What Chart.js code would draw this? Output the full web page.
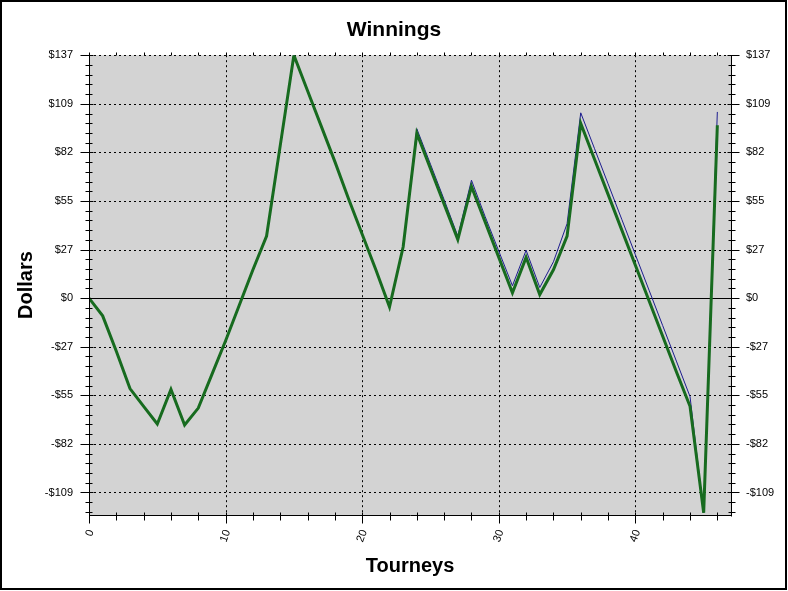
<!DOCTYPE html>
<html>
<head>
<meta charset="utf-8">
<script src="https://cdn.jsdelivr.net/npm/chart.js"></script>
<style>
  body { margin: 0; background: #fff; }
  canvas { display: block; }
</style>
</head>
<body>
<canvas id="myChart" width="788" height="591"></canvas>
<script>
// tourney numbers and running winnings
var tourneys = [0,1,2,3,4,5,6,7,8,9,10,11,12,13,14,15,16,17,18,19,20,21,22,23,
  24,25,26,27,28,29,30,31,32,33,34,35,36,37,38,39,40,41,42,43,44,45,46];
var netWinnings = [0,-10,-30,-51,-61,-71,-51.5,-71.5,-62,-43,-24,-4,16,35,86,137,
  117,97,77,56,36,16,-5,29,93,73,53,33,63,43,23,3,23,2,16,35,98.5,78.5,58.5,38.5,
  18.5,-1.5,-21.5,-41.5,-61,-121,97.5];
var grossWinnings = [0,-10,-30,-51,-61,-71,-51.5,-71.5,-62,-43,-24,-4,16,35,86,137,
  117,97,77,56,36,16,-5,29,95.5,75.5,55.5,35,66.5,46,26.5,7,27,6,20.5,42,104.5,84.5,64.5,44.5,
  24.5,4.5,-15.5,-35.5,-55.5,-121,105];

var xTickValues = [0, 10, 20, 30, 40];
var yTickValues = [-109.6, -82.2, -54.8, -27.4, 0, 27.4, 54.8, 82.2, 109.6, 137];
var yTickLabels = ["-$109", "-$82", "-$55", "-$27", "$0", "$27", "$55", "$82", "$109", "$137"];

var xMin = 0, xMax = 47;
var yMin = -122.3, yMax = 137;

var font = "'Liberation Sans', Arial, sans-serif";

function setYTicks(scale) {
  scale.ticks = yTickValues.map(v => ({value: v}));
}

function line(ctx, x1, y1, x2, y2) {
  ctx.beginPath();
  ctx.moveTo(x1, y1);
  ctx.lineTo(x2, y2);
  ctx.stroke();
}

// gray plot area, dotted grid and the zero line
var plotBack = {
  id: 'plotBack',
  beforeDatasetsDraw(chart) {
    const ctx = chart.ctx, a = chart.chartArea;
    const x = chart.scales.x, y = chart.scales.y;
    ctx.save();
    ctx.fillStyle = '#d3d3d3';
    ctx.fillRect(a.left, a.top, a.right - a.left, a.bottom - a.top);
    ctx.strokeStyle = '#000';
    ctx.lineWidth = 1;
    ctx.setLineDash([2, 3]);
    x.ticks.forEach(t => {
      if (t.value === 0) return;
      const px = Math.round(x.getPixelForValue(t.value)) + 0.5;
      line(ctx, px, a.top, px, a.bottom);
    });
    y.ticks.forEach(t => {
      if (t.value === 0) return;
      const py = Math.round(y.getPixelForValue(t.value)) + 0.5;
      line(ctx, a.left, py, a.right, py);
    });
    ctx.setLineDash([]);
    const zy = Math.round(y.getPixelForValue(0)) + 0.5;
    line(ctx, a.left, zy, a.right, zy);
    ctx.restore();
  }
};

// axis lines, major/minor tick marks and the outer frame
var axisMarks = {
  id: 'axisMarks',
  afterDatasetsDraw(chart) {
    const ctx = chart.ctx, a = chart.chartArea;
    const x = chart.scales.x, y = chart.scales.y;
    const L = a.left + 0.5, R = Math.round(a.right) + 0.5, B = Math.round(a.bottom) + 0.5, T = Math.round(a.top) + 0.5;
    ctx.save();
    ctx.strokeStyle = '#000';
    ctx.lineWidth = 1;
    line(ctx, L, T, L, B + 1);
    line(ctx, R, T, R, B + 1);
    line(ctx, L, B, R, B);

    // y ticks, 5 minor steps per major step
    const step = yTickValues[1] - yTickValues[0];
    for (let v = yMax; v >= yMin - 0.01; v -= step / 5) {
      const py = Math.round(y.getPixelForValue(v)) + 0.5;
      const major = yTickValues.some(t => Math.abs(t - v) < 0.05);
      if (major) {
        line(ctx, L - 9, py, L + 4, py);
        line(ctx, R - 4, py, R + 8, py);
      } else {
        line(ctx, L - 4, py, L + 3, py);
        line(ctx, R - 3, py, R + 4, py);
      }
    }
    // x ticks every 2 tourneys
    for (let v = xMin; v <= xMax; v += 2) {
      const px = Math.round(x.getPixelForValue(v)) + 0.5;
      const major = xTickValues.indexOf(v) >= 0;
      line(ctx, px, B - 3, px, B + (major ? 8 : 5));
      line(ctx, px, T, px, T - 3);
    }

    ctx.lineWidth = 2;
    ctx.strokeRect(1, 1, 785, 588);
    ctx.restore();
  }
};

new Chart("myChart", {
  type: "line",
  data: {
    datasets: [{
      label: "Net",
      data: tourneys.map((t, i) => ({x: t, y: netWinnings[i]})),
      borderColor: "#176b1f",
      borderWidth: 3,
      pointRadius: 0,
      tension: 0
    }, {
      label: "Gross",
      data: tourneys.map((t, i) => ({x: t, y: grossWinnings[i]})),
      borderColor: "#1c1c8e",
      borderWidth: 1,
      pointRadius: 0,
      tension: 0
    }]
  },
  options: {
    responsive: false,
    animation: false,
    devicePixelRatio: 1,
    layout: { padding: 0 },
    plugins: {
      legend: { display: false },
      tooltip: { enabled: false },
      title: {
        display: true,
        text: "Winnings",
        color: "#000",
        font: { family: font, size: 21, weight: "bold" },
        padding: { top: 18, bottom: 12 }
      }
    },
    scales: {
      x: {
        type: "linear",
        min: xMin,
        max: xMax,
        afterBuildTicks: s => { s.ticks = xTickValues.map(v => ({value: v})); },
        afterFit: s => { s.height = 76; },
        grid: { display: false, drawTicks: false },
        border: { display: false },
        ticks: {
          autoSkip: false,
          minRotation: 70,
          maxRotation: 70,
          padding: 13,
          labelOffset: 2,
          color: "#000",
          font: { family: font, size: 11 }
        },
        title: {
          display: true,
          text: "Tourneys",
          color: "#000",
          font: { family: font, size: 20, weight: "bold" },
          padding: { top: 0, bottom: 13 }
        }
      },
      y: {
        position: "left",
        min: yMin,
        max: yMax,
        afterBuildTicks: setYTicks,
        afterFit: s => { s.width = 89; },
        grid: { display: false, drawTicks: false },
        border: { display: false },
        ticks: {
          padding: 16,
          color: "#000",
          font: { family: font, size: 11 },
          callback: (v, i) => yTickLabels[i]
        },
        title: {
          display: true,
          text: "Dollars",
          color: "#000",
          font: { family: font, size: 20, weight: "bold" },
          padding: { top: 14, bottom: 0 }
        }
      },
      y2: {
        position: "right",
        min: yMin,
        max: yMax,
        afterBuildTicks: setYTicks,
        afterFit: s => { s.width = 57; },
        grid: { display: false, drawTicks: false },
        border: { display: false },
        ticks: {
          padding: 15,
          color: "#000",
          font: { family: font, size: 11 },
          callback: (v, i) => yTickLabels[i]
        }
      }
    }
  },
  plugins: [plotBack, axisMarks]
});
</script>
</body>
</html>
